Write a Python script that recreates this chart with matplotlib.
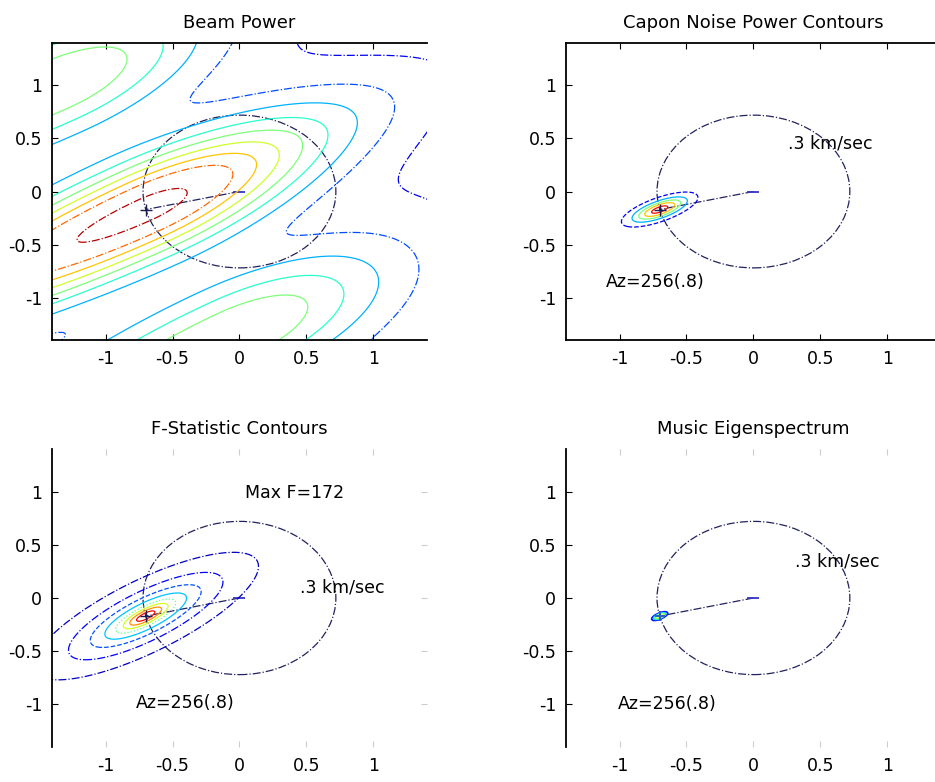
import matplotlib.pyplot as plt
import numpy as np
from matplotlib.patches import Circle

plt.rcParams['font.family'] = ['DejaVu Sans']
plt.rcParams['font.size'] = 12.5

titles = ["Beam Power", "Capon Noise Power Contours",
          "F-Statistic Contours", "Music Eigenspectrum"]
tick_vals = [-1, -0.5, 0, 0.5, 1]
tick_text = ["-1", "-0.5", "0", "0.5", "1"]

circle_r = 0.72          # .3 km/sec ring
peak_xy = (-0.70, -0.17)  # Az=256
origin_xy = (0.0, 0.0)

# beam power: ridge tilt (deg), along-ridge falloff (back, front), main lobe, sidelobe bands
beam_tilt = 30
beam_len = [2.6, 1.9]
side_len = [2.6, 1.25]
beam_main = [0.4, 0.4]    # amplitude, width across ridge
beam_side = [0.38, 1.35]  # amplitude, spacing across ridge
beam_floor = 0.22
beam_levels = [0.1, 0.2, 0.3, 0.4, 0.5, 0.6, 0.7, 0.8, 0.95]

capon_tilt = 25
capon_sig = [0.145, 0.051]
capon_levels = [0.1, 0.3, 0.5, 0.7, 0.9]

f_max = 172
f_tilt = 33
f_scale = [0.244, 0.08]
f_levels = [10, 20, 35, 55, 80, 105, 130, 155]

music_tilt = 30
music_sig = [0.035, 0.014]
music_levels = [0.15, 0.35, 0.55]

ring_label = ".3 km/sec"
az_label = "Az=256(.8)"
maxf_label = "Max F=172"

xs = np.linspace(-1.45, 1.45, 291)
X, Y = np.meshgrid(xs, xs)


def rotated(tilt):
    t = np.deg2rad(tilt)
    dx = X - peak_xy[0]
    dy = Y - peak_xy[1]
    u = dx * np.cos(t) + dy * np.sin(t)
    v = -dx * np.sin(t) + dy * np.cos(t)
    return u, v


def gauss(tilt, sig):
    u, v = rotated(tilt)
    return np.exp(-0.5 * ((u / sig[0])**2 + (v / sig[1])**2))


u, v = rotated(beam_tilt)
g_main = np.exp(-(u / np.where(u < 0, beam_len[0], beam_len[1]))**2)
g_side = np.exp(-(u / np.where(u < 0, side_len[0], side_len[1]))**2)
beam = (g_main * (beam_main[0] * np.exp(-(v / beam_main[1])**2) + beam_floor)
        + g_side * beam_side[0] * np.cos(np.pi * v / beam_side[1])**2)
capon = gauss(capon_tilt, capon_sig)
u, v = rotated(f_tilt)
fstat = f_max / (1 + (u / f_scale[0])**2 + (v / f_scale[1])**2)
music = gauss(music_tilt, music_sig)

fig = plt.figure(figsize=(9.35, 7.82), dpi=100)
pos = [[0.0556, 0.5652, 0.401, 0.3798],
       [0.6053, 0.5652, 0.401, 0.3798],
       [0.0556, 0.0448, 0.401, 0.381],
       [0.6053, 0.0448, 0.401, 0.381]]
axs = [fig.add_axes(p) for p in pos]

ring_col = '#22225e'
dark = '#1c1c50'


def decorate(ax, title, boxed):
    ax.set_xlim(-1.4, 1.4)
    ax.set_ylim(-1.4, 1.4)
    ax.set_xticks(tick_vals)
    ax.set_xticklabels(tick_text)
    ax.set_yticks(tick_vals)
    ax.set_yticklabels(tick_text)
    ax.set_title(title, fontsize=13, pad=11)
    ax.add_patch(Circle(origin_xy, circle_r, fill=False, ls='-.',
                        lw=0.9, color=ring_col))
    ax.plot([origin_xy[0], peak_xy[0]], [origin_xy[1], peak_xy[1]],
            ls='-.', lw=0.9, color=ring_col)
    ax.plot(*origin_xy, marker='_', ms=9, mew=1.3, color='#3535c8')
    ax.spines['right'].set_visible(False)
    if boxed:
        ax.tick_params(direction='in', length=4, top=True, pad=7, width=0.8)
        for s in ['top', 'left', 'bottom']:
            ax.spines[s].set_linewidth(1.3)
    else:
        ax.spines['top'].set_visible(False)
        ax.spines['bottom'].set_visible(False)
        ax.spines['left'].set_linewidth(1.3)
        ax.tick_params(axis='x', direction='in', length=4, top=True,
                       pad=7, color='0.8')
        ax.tick_params(axis='y', direction='in', length=4, pad=7, width=0.8)
        sec = ax.secondary_yaxis('right')
        sec.set_yticks(tick_vals)
        sec.tick_params(direction='in', length=4, color='0.8',
                        labelright=False)
        sec.spines['right'].set_visible(False)


ax = axs[0]
decorate(ax, titles[0], True)
ax.contour(X, Y, beam, levels=beam_levels, cmap='jet', vmin=0, vmax=1,
           linewidths=0.9,
           linestyles=['-.', '-.', '-', '-', '-', '-', '-', '-.', '-.'])
ax.plot(*peak_xy, marker='+', ms=8, color=dark)

ax = axs[1]
decorate(ax, titles[1], True)
ax.contour(X, Y, capon, levels=capon_levels, cmap='jet', vmin=0, vmax=1,
           linewidths=0.9, linestyles=['--', '-', '-', '-', '-'])
ax.plot(*peak_xy, marker='+', ms=8, color=dark)
ax.text(0.26, 0.45, ring_label, va='center')
ax.text(-1.1, -0.85, az_label, va='center')

ax = axs[2]
decorate(ax, titles[2], False)
ax.contour(X, Y, fstat, levels=f_levels, cmap='jet', vmin=0, vmax=f_max,
           linewidths=0.9,
           linestyles=['-.', '-.', '--', '-', ':', '-', '-', '-'])
ax.plot(*peak_xy, marker='+', ms=8, color=dark)
ax.text(0.04, 0.99, maxf_label, va='center')
ax.text(0.45, 0.10, ring_label, va='center')
ax.text(-0.77, -0.99, az_label, va='center')

ax = axs[3]
decorate(ax, titles[3], False)
ax.contour(X, Y, music, levels=music_levels, cmap='jet', vmin=0, vmax=1,
           linewidths=1.2)
ax.plot(*peak_xy, marker='+', ms=7, mew=1.5, color='#3060c0')
ax.text(0.31, 0.34, ring_label, va='center')
ax.text(-1.01, -1.0, az_label, va='center')

fig.savefig("out.png", dpi=100)
